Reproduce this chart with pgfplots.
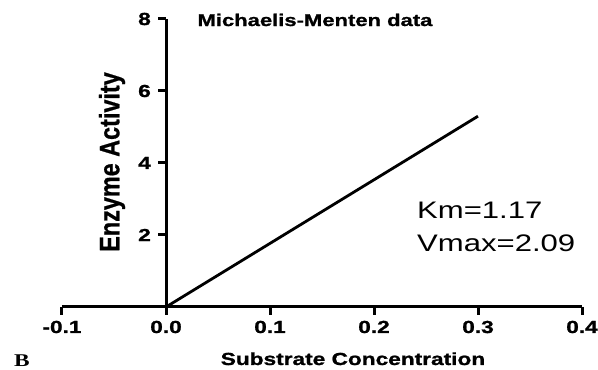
\documentclass[border=0pt]{standalone}
\usepackage{fontspec}
\setmainfont{Liberation Sans}
\newfontfamily\sw[FakeStretch=1.3, BoldFeatures={FakeBold=1.2}]{Liberation Sans}
\newfontfamily\swserif[FakeStretch=1.3]{Liberation Serif}
\newfontfamily\yl[BoldFeatures={FakeBold=0.8}]{Liberation Sans}
\usepackage{pgfplots}
\pgfplotsset{compat=1.18}
\begin{document}
\begin{tikzpicture}
\begin{axis}[
  x=1040bp, y=36bp,
  xmin=-0.1, xmax=0.4, ymin=0, ymax=8,
  axis x line=bottom, axis y line=middle,
  axis line style={-, line width=3bp, black},
  every inner y axis line/.append style={-},
  every outer x axis line/.append style={-},
  xtick={-0.1,0,0.1,0.2,0.3,0.4},
  xticklabels={-0.1,0.0,0.1,0.2,0.3,0.4},
  ytick={2,4,6,8},
  yticklabels={2,4,6,8},
  major tick length=0pt,
  minor tick num=0,
  xticklabel style={font=\sw\bfseries\fontsize{17.5}{17.5}\selectfont, inner sep=0pt, anchor=base, yshift=-26bp},
  yticklabel style={font=\sw\bfseries\fontsize{17.5}{17.5}\selectfont, inner sep=0pt, anchor=east, xshift=-15bp},
  title={Michaelis-Menten data},
  title style={font=\sw\bfseries\fontsize{17}{17}\selectfont, at={(axis description cs:0.4865,0.9549)}, anchor=base, inner sep=0pt},
  xlabel={Substrate Concentration},
  xlabel style={font=\sw\bfseries\fontsize{17.5}{17.5}\selectfont, at={(axis description cs:0.5596,-0.2014)}, anchor=base, inner sep=0pt},
  ylabel={\scalebox{1}[1.2]{Enzyme Activity}},
  every axis y label/.style={font=\yl\bfseries\fontsize{23.5}{23.5}\selectfont, at={(axis description cs:0.0962,0.5035)}, rotate=90, anchor=center, inner sep=0pt},
  clip=false,
]
\addplot[black, line width=2.8bp] coordinates {(0,0) (0.3,5.3)};
% tick marks as short plotted segments
\addplot[black, line width=3bp, forget plot] coordinates {(-0.1,0) (-0.1,-0.222)};
\addplot[black, line width=3bp, forget plot] coordinates {(0,0) (0,-0.222)};
\addplot[black, line width=3bp, forget plot] coordinates {(0.1,0) (0.1,-0.222)};
\addplot[black, line width=3bp, forget plot] coordinates {(0.2,0) (0.2,-0.222)};
\addplot[black, line width=3bp, forget plot] coordinates {(0.3,0) (0.3,-0.222)};
\addplot[black, line width=3bp, forget plot] coordinates {(0.4,0) (0.4,-0.222)};
\addplot[black, line width=3bp, forget plot] coordinates {(0,2) (-0.0077,2)};
\addplot[black, line width=3bp, forget plot] coordinates {(0,4) (-0.0077,4)};
\addplot[black, line width=3bp, forget plot] coordinates {(0,6) (-0.0077,6)};
\addplot[black, line width=3bp, forget plot] coordinates {(0,8) (-0.0077,8)};
\node[anchor=base west, inner sep=0pt, font=\sw\fontsize{24}{24}\selectfont] at (axis cs:0.2413,2.472) {Km=1.17};
\node[anchor=base west, inner sep=0pt, font=\sw\fontsize{24}{24}\selectfont] at (axis cs:0.2413,1.528) {Vmax=2.09};
\node[anchor=base west, inner sep=0pt, font=\swserif\bfseries\fontsize{18}{18}\selectfont] at (axis cs:-0.1462,-1.64) {B};
\path (axis cs:-0.159615,-1.75) rectangle (axis cs:0.415385,8.5278);
\end{axis}
\end{tikzpicture}
\end{document}
